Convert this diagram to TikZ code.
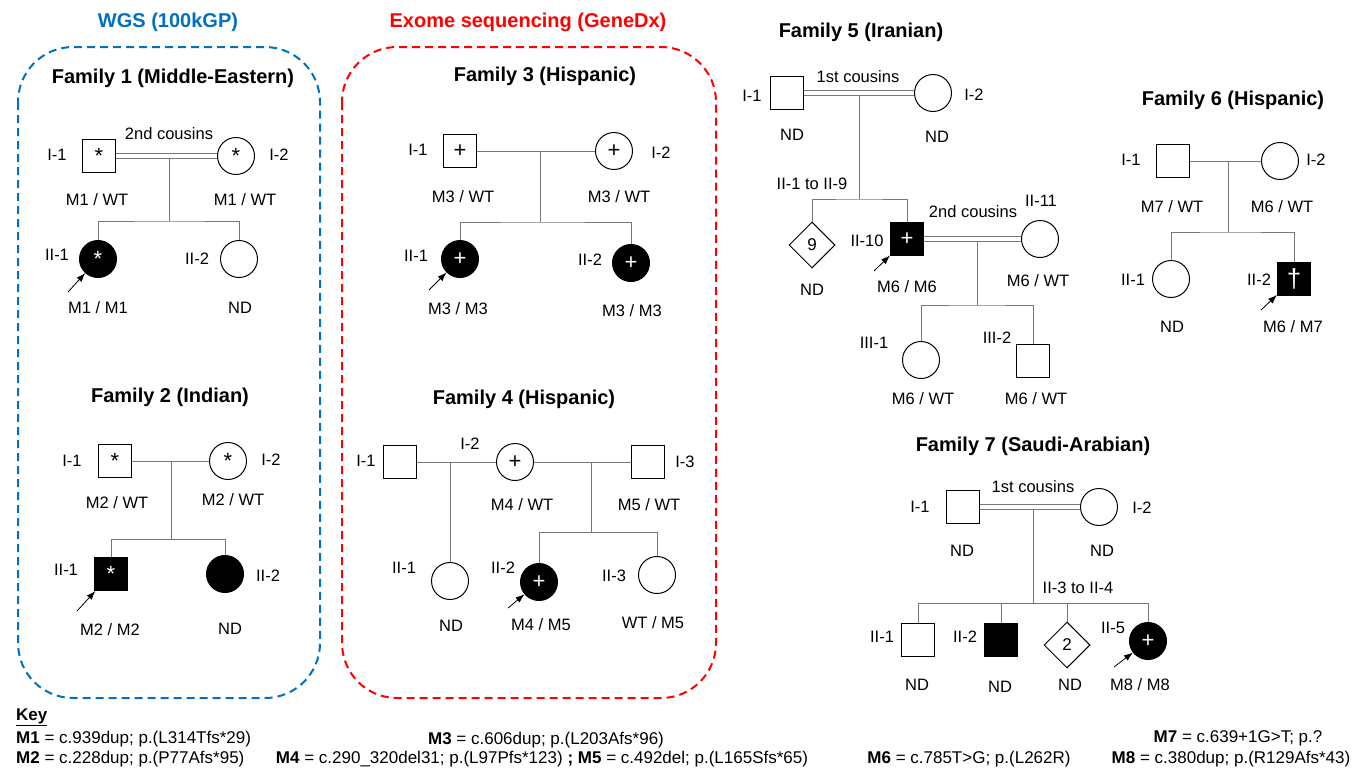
\documentclass[tikz,border=0pt]{standalone}
\usepackage{fontspec}
\setmainfont{Liberation Sans}
\usetikzlibrary{shapes.geometric}
\usetikzlibrary{arrows.meta}

\definecolor{wgsblue}{RGB}{0,112,192}
\definecolor{exomered}{RGB}{255,0,0}
\definecolor{linegray}{RGB}{120,120,120}

\tikzset{
  male/.style={draw, rectangle, line width=1pt, minimum size=33pt, inner sep=0pt, font=\fontsize{22}{22}\selectfont},
  female/.style={draw, circle, line width=1pt, minimum size=37pt, inner sep=0pt, font=\fontsize{22}{22}\selectfont},
  sibs/.style={draw, diamond, line width=1pt, minimum size=46pt, inner sep=0pt, font=\fontsize{17}{17}\selectfont},
  affected/.style={fill=black, text=white},
  link/.style={draw=linegray, line width=1pt},
  cousins/.style={draw=linegray, line width=0.9pt, double=white, double distance=4pt},
  tag/.style={font=\fontsize{16.5}{19}\selectfont, inner sep=0pt},
  famtitle/.style={font=\fontsize{20}{24}\selectfont\bfseries, inner sep=0pt},
  proband/.style={-{Latex[length=9pt,width=6.5pt]}, line width=0.8pt},
  keyline/.style={font=\fontsize{17}{20}\selectfont, inner sep=0pt},
  wgsbox/.style={draw=wgsblue, line width=2pt, dash pattern=on 8pt off 5pt, rounded corners=55pt},
  exomebox/.style={draw=exomered, line width=2pt, dash pattern=on 8pt off 5pt, rounded corners=55pt},
}

\begin{document}
\begin{tikzpicture}[x=1pt,y=-1pt]
\useasboundingbox (0,0) rectangle (1359,769);

% sequencing groups
\node[famtitle, text=wgsblue] (wgs) at (168,22) {WGS (100kGP)};
\draw[wgsbox] (18,47) rectangle (320,698);
\node[famtitle, text=exomered] (exome) at (528,22) {Exome sequencing (GeneDx)};
\draw[exomebox] (342,47) rectangle (716,698);

% Family 1
\node[famtitle] (f1title) at (173,78) {Family 1 (Middle-Eastern)};
\node[male] (f1a) at (99,156) {*};
\node[female] (f1b) at (236,156) {*};
\node[female, affected] (f1c) at (98,259) {*};
\node[female] (f1d) at (239,259) {};
\coordinate (f1m) at (169,158.5);
\coordinate (f1s) at (169,221);
\draw[cousins] (f1a) -- (f1b);
\draw[link] (f1m) -- (f1s);
\draw[link] (f1c) |- (f1s) -| (f1d);
\node[tag] (f1rel) at (169,134) {2nd cousins};
\node[tag] (f1a-id) at (57,155) {I-1};
\node[tag] (f1b-id) at (279,155) {I-2};
\node[tag] (f1c-id) at (57,255) {II-1};
\node[tag] (f1d-id) at (197,259) {II-2};
\node[tag] (f1a-gt) at (97,200) {M1 / WT};
\node[tag] (f1b-gt) at (245,200) {M1 / WT};
\node[tag] (f1c-gt) at (98,308) {M1 / M1};
\node[tag] (f1d-gt) at (240,308) {ND};
\coordinate (f1p) at (68,292);
\draw[proband] (f1p) -- (f1c);

% Family 2
\node[famtitle] (f2title) at (170,397) {Family 2 (Indian)};
\node[male] (f2a) at (115,461) {*};
\node[female] (f2b) at (228,461) {*};
\node[male, affected] (f2c) at (111,574) {*};
\node[female, affected] (f2d) at (225,574) {};
\coordinate (f2m) at (171,461);
\coordinate (f2s) at (171,539);
\draw[link] (f2a) -- (f2b);
\draw[link] (f2m) -- (f2s);
\draw[link] (f2c) |- (f2s) -| (f2d);
\node[tag] (f2a-id) at (72,461) {I-1};
\node[tag] (f2b-id) at (271,460) {I-2};
\node[tag] (f2c-id) at (66,570) {II-1};
\node[tag] (f2d-id) at (268,576) {II-2};
\node[tag] (f2a-gt) at (117,503) {M2 / WT};
\node[tag] (f2b-gt) at (233,500) {M2 / WT};
\node[tag] (f2c-gt) at (110,630) {M2 / M2};
\node[tag] (f2d-gt) at (230,629) {ND};
\coordinate (f2p) at (77,611);
\draw[proband] (f2p) -- (f2c);

% Family 3
\node[famtitle] (f3title) at (545,76) {Family 3 (Hispanic)};
\node[male] (f3a) at (460,151) {+};
\node[female] (f3b) at (614,151) {+};
\node[female, affected] (f3c) at (460,259) {+};
\node[female, affected] (f3d) at (631,263) {+};
\coordinate (f3m) at (540,151);
\coordinate (f3s) at (540,222);
\draw[link] (f3a) -- (f3b);
\draw[link] (f3m) -- (f3s);
\draw[link] (f3c) |- (f3s) -| (f3d);
\node[tag] (f3a-id) at (418,150) {I-1};
\node[tag] (f3b-id) at (661,153) {I-2};
\node[tag] (f3c-id) at (416,256) {II-1};
\node[tag] (f3d-id) at (590,260) {II-2};
\node[tag] (f3a-gt) at (463,197) {M3 / WT};
\node[tag] (f3b-gt) at (619,197) {M3 / WT};
\node[tag] (f3c-gt) at (458,309) {M3 / M3};
\node[tag] (f3d-gt) at (632,311) {M3 / M3};
\coordinate (f3p) at (429,290);
\draw[proband] (f3p) -- (f3c);

% Family 4
\node[famtitle] (f4title) at (524,399) {Family 4 (Hispanic)};
\node[male] (f4a) at (400,462) {};
\node[female] (f4b) at (515,462) {+};
\node[male] (f4c) at (648,462) {};
\node[female] (f4d) at (450,581) {};
\node[female, affected] (f4e) at (539,582) {+};
\node[female] (f4f) at (657,575) {};
\coordinate (f4m1) at (450,462);
\coordinate (f4m2) at (591,462);
\coordinate (f4s) at (591,532);
\draw[link] (f4a) -- (f4b);
\draw[link] (f4b) -- (f4c);
\draw[link] (f4m1) -- (f4d);
\draw[link] (f4m2) -- (f4s);
\draw[link] (f4e) |- (f4s) -| (f4f);
\node[tag] (f4a-id) at (366,461) {I-1};
\node[tag] (f4b-id) at (470,444) {I-2};
\node[tag] (f4c-id) at (685,462) {I-3};
\node[tag] (f4d-id) at (404,568) {II-1};
\node[tag] (f4e-id) at (503,568) {II-2};
\node[tag] (f4f-id) at (614,576) {II-3};
\node[tag] (f4b-gt) at (522,505) {M4 / WT};
\node[tag] (f4c-gt) at (649,505) {M5 / WT};
\node[tag] (f4d-gt) at (451,626) {ND};
\node[tag] (f4e-gt) at (541,625) {M4 / M5};
\node[tag] (f4f-gt) at (653,623) {WT / M5};
\coordinate (f4p) at (508,608);
\draw[proband] (f4p) -- (f4e);

% Family 5
\node[famtitle] (f5title) at (861,32) {Family 5 (Iranian)};
\node[male] (f5a) at (787,93) {};
\node[female] (f5b) at (933,93) {};
\node[sibs] (f5c) at (812,245) {9};
\node[male, affected] (f5d) at (907,239) {+};
\node[female] (f5e) at (1040,239) {};
\node[female] (f5f) at (921,360) {};
\node[male] (f5g) at (1033,361) {};
\coordinate (f5m) at (859,95.5);
\coordinate (f5s) at (859,199);
\coordinate (f5m2) at (977,241.5);
\coordinate (f5s2) at (977,305);
\draw[cousins] (f5a) -- (f5b);
\draw[link] (f5m) -- (f5s);
\draw[link] (f5c) |- (f5s) -| (f5d);
\draw[cousins] (f5d) -- (f5e);
\draw[link] (f5m2) -- (f5s2);
\draw[link] (f5f) |- (f5s2) -| (f5g);
\node[tag] (f5rel1) at (858,77) {1st cousins};
\node[tag] (f5rel2) at (973,212) {2nd cousins};
\node[tag] (f5a-id) at (752,96) {I-1};
\node[tag] (f5b-id) at (974,95) {I-2};
\node[tag] (f5c-id) at (812,184) {II-1 to II-9};
\node[tag] (f5d-id) at (867,241) {II-10};
\node[tag] (f5e-id) at (1041,201) {II-11};
\node[tag] (f5f-id) at (874,343) {III-1};
\node[tag] (f5g-id) at (997,338) {III-2};
\node[tag] (f5a-gt) at (792,135) {ND};
\node[tag] (f5b-gt) at (937,137) {ND};
\node[tag] (f5c-gt) at (812,290) {ND};
\node[tag] (f5d-gt) at (907,287) {M6 / M6};
\node[tag] (f5e-gt) at (1038,281) {M6 / WT};
\node[tag] (f5f-gt) at (923,399) {M6 / WT};
\node[tag] (f5g-gt) at (1036,399) {M6 / WT};
\coordinate (f5p) at (874,271);
\draw[proband] (f5p) -- (f5d);

% Family 6
\node[famtitle] (f6title) at (1233,100) {Family 6 (Hispanic)};
\node[male] (f6a) at (1173,161) {};
\node[female] (f6b) at (1280,161) {};
\node[female] (f6c) at (1171,279) {};
\node[male, affected, font=\fontsize{26}{26}\selectfont] (f6d) at (1294,279) {†};
\coordinate (f6m) at (1228,161);
\coordinate (f6s) at (1228,232);
\draw[link] (f6a) -- (f6b);
\draw[link] (f6m) -- (f6s);
\draw[link] (f6c) |- (f6s) -| (f6d);
\node[tag] (f6a-id) at (1131,160) {I-1};
\node[tag] (f6b-id) at (1316,160) {I-2};
\node[tag] (f6c-id) at (1133,280) {II-1};
\node[tag] (f6d-id) at (1259,280) {II-2};
\node[tag] (f6a-gt) at (1172,207) {M7 / WT};
\node[tag] (f6b-gt) at (1282,207) {M6 / WT};
\node[tag] (f6c-gt) at (1172,327) {ND};
\node[tag] (f6d-gt) at (1293,327) {M6 / M7};
\coordinate (f6p) at (1261,310);
\draw[proband] (f6p) -- (f6d);

% Family 7
\node[famtitle] (f7title) at (1033,446) {Family 7 (Saudi-Arabian)};
\node[male] (f7a) at (963,507) {};
\node[female] (f7b) at (1099,507) {};
\node[male] (f7c) at (918,640) {};
\node[male, affected] (f7d) at (1001,640) {};
\node[sibs] (f7e) at (1067,645) {2};
\node[female, affected] (f7f) at (1148,641) {+};
\coordinate (f7m) at (1033,509.5);
\coordinate (f7s) at (1033,603);
\draw[cousins] (f7a) -- (f7b);
\draw[link] (f7m) -- (f7s);
\draw[link] (f7c) |- (f7s) -| (f7f);
\draw[link] (f7d) -- (f7d |- f7s);
\draw[link] (f7e) -- (f7e |- f7s);
\node[tag] (f7rel) at (1033,487) {1st cousins};
\node[tag] (f7a-id) at (920,507) {I-1};
\node[tag] (f7b-id) at (1142,508) {I-2};
\node[tag] (f7e-id) at (1078,588) {II-3 to II-4};
\node[tag] (f7c-id) at (882,637) {II-1};
\node[tag] (f7d-id) at (965,637) {II-2};
\node[tag] (f7f-id) at (1113,628) {II-5};
\node[tag] (f7a-gt) at (962,551) {ND};
\node[tag] (f7b-gt) at (1102,551) {ND};
\node[tag] (f7c-gt) at (917,685) {ND};
\node[tag] (f7d-gt) at (1000,687) {ND};
\node[tag] (f7e-gt) at (1070,685) {ND};
\node[tag] (f7f-gt) at (1140,685) {M8 / M8};
\coordinate (f7p) at (1114,667);
\draw[proband] (f7p) -- (f7f);

% key
\node[keyline, anchor=west] (keyhead) at (16,717) {\textbf{\underline{Key}}};
\node[keyline, anchor=west] (key1) at (16,739) {\textbf{M1} = c.939dup; p.(L314Tfs*29)};
\node[keyline, anchor=west] (key2) at (16,759) {\textbf{M2} = c.228dup; p.(P77Afs*95)};
\node[keyline] (key3) at (546,740) {\textbf{M3} = c.606dup; p.(L203Afs*96)};
\node[keyline] (key45) at (542,759) {\textbf{M4} = c.290\_320del31; p.(L97Pfs*123) \textbf{;} \textbf{M5} = c.492del; p.(L165Sfs*65)};
\node[keyline] (key6) at (969,759) {\textbf{M6} = c.785T>G; p.(L262R)};
\node[keyline] (key7) at (1238,738) {\textbf{M7} = c.639+1G>T; p.?};
\node[keyline] (key8) at (1231,759) {\textbf{M8} = c.380dup; p.(R129Afs*43)};
\end{tikzpicture}
\end{document}
